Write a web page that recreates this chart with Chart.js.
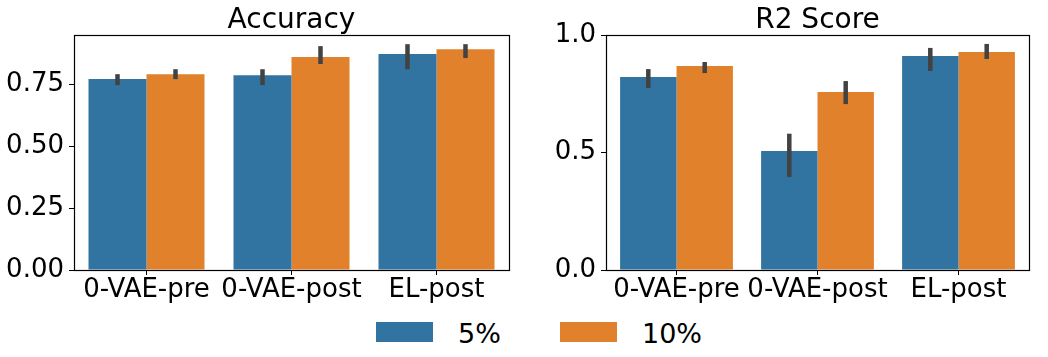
<!DOCTYPE html>
<html>
<head>
<meta charset="utf-8">
<script src="https://cdn.jsdelivr.net/npm/chart.js@4"></script>
<style>
  body { margin: 0; background: #fff; width: 1048px; height: 357px; overflow: hidden; position: relative; font-family: "DejaVu Sans", sans-serif; }
  .panel { position: absolute; top: 0; height: 310px; }
  #legend { position: absolute; top: 0; left: 0; }
  .sw { position: absolute; width: 57px; height: 20px; top: 322px; }
  .lbl { position: absolute; top: 320px; font-size: 27px; line-height: 27px; color: #000; }
</style>
</head>
<body>
<div class="panel" style="left:0;width:520px"><canvas id="acc"></canvas></div>
<div class="panel" style="left:520px;width:528px"><canvas id="r2"></canvas></div>
<div id="legend"></div>
<script>
const categories = ['0-VAE-pre', '0-VAE-post', 'EL-post'];
const seriesNames = ['5%', '10%'];
const seriesColors = ['#3274a1', '#e1812c'];

// Accuracy (bar height, CI low, CI high)
const acc5 = [0.770, 0.786, 0.871];
const acc5Lo = [0.746, 0.746, 0.810];
const acc5Hi = [0.790, 0.810, 0.911];
const acc10 = [0.790, 0.859, 0.891];
const acc10Lo = [0.770, 0.831, 0.855];
const acc10Hi = [0.810, 0.903, 0.911];

// R2 Score
const r2_5 = [0.821, 0.506, 0.911];
const r2_5Lo = [0.774, 0.396, 0.847];
const r2_5Hi = [0.855, 0.580, 0.945];
const r2_10 = [0.868, 0.757, 0.928];
const r2_10Lo = [0.838, 0.706, 0.898];
const r2_10Hi = [0.885, 0.804, 0.962];

const accTicks = [0, 0.25, 0.5, 0.75];
const r2Ticks = [0, 0.5, 1.0];

Chart.defaults.font.family = '"DejaVu Sans", sans-serif';
Chart.defaults.color = '#000';

// draw the CI lines on top of the bars
const errorBars = {
    id: 'errorBars',
    afterDatasetsDraw(chart) {
        const ctx = chart.ctx;
        const y = chart.scales.y;
        ctx.save();
        ctx.strokeStyle = '#424242';
        ctx.lineWidth = 4.5;
        ctx.lineCap = 'butt';
        chart.data.datasets.forEach((ds, i) => {
            const meta = chart.getDatasetMeta(i);
            meta.data.forEach((bar, j) => {
                ctx.beginPath();
                ctx.moveTo(bar.x, y.getPixelForValue(ds.errLo[j]));
                ctx.lineTo(bar.x, y.getPixelForValue(ds.errHi[j]));
                ctx.stroke();
            });
        });
        ctx.restore();
    }
};

// full box around the plot area + title centred over it
const frame = {
    id: 'frame',
    afterDraw(chart) {
        const a = chart.chartArea;
        const ctx = chart.ctx;
        ctx.save();
        ctx.strokeStyle = '#000';
        ctx.lineWidth = 1.2;
        ctx.strokeRect(Math.round(a.left) + 0.5, Math.round(a.top) + 0.5, Math.round(a.right - a.left), Math.round(a.bottom - a.top));
        ctx.fillStyle = '#000';
        ctx.font = '28px "DejaVu Sans", sans-serif';
        ctx.textAlign = 'center';
        ctx.textBaseline = 'alphabetic';
        ctx.fillText(chart.options.panelTitle, (a.left + a.right) / 2, 28);
        ctx.restore();
    }
};

function makeChart(id, title, s5, s10, lo5, hi5, lo10, hi10, yMax, ticks, decimals, yWidth, rightPad) {
    return new Chart(document.getElementById(id), {
        type: 'bar',
        data: {
            labels: categories,
            datasets: [
                { label: seriesNames[0], data: s5, errLo: lo5, errHi: hi5, backgroundColor: seriesColors[0] },
                { label: seriesNames[1], data: s10, errLo: lo10, errHi: hi10, backgroundColor: seriesColors[1] }
            ]
        },
        options: {
            panelTitle: title,
            responsive: true,
            maintainAspectRatio: false,
            animation: false,
            devicePixelRatio: 1,
            categoryPercentage: 0.8,
            barPercentage: 1.0,
            layout: { padding: { left: 0, right: rightPad, top: 35, bottom: 0 } },
            plugins: {
                legend: { display: false },
                tooltip: { enabled: false },
                title: { display: false }
            },
            scales: {
                x: {
                    grid: { display: true, offset: false, drawOnChartArea: false, tickLength: 5, color: '#000' },
                    border: { color: '#000' },
                    ticks: { font: { size: 26 }, autoSkip: false, maxRotation: 0, minRotation: 0, padding: 0 },
                    afterFit(scale) { scale.height = 40; }
                },
                y: {
                    min: 0,
                    max: yMax,
                    afterBuildTicks(scale) { scale.ticks = ticks.map(v => ({ value: v })); },
                    grid: { display: true, drawOnChartArea: false, tickLength: 5, color: '#000' },
                    border: { color: '#000' },
                    ticks: { font: { size: 26 }, padding: 5, callback: v => Number(v).toFixed(decimals) },
                    afterFit(scale) { scale.width = yWidth; }
                }
            }
        },
        plugins: [errorBars, frame]
    });
}

makeChart('acc', 'Accuracy', acc5, acc10, acc5Lo, acc5Hi, acc10Lo, acc10Hi, 0.948, accTicks, 2, 74, 11);
makeChart('r2', 'R2 Score', r2_5, r2_10, r2_5Lo, r2_5Hi, r2_10Lo, r2_10Hi, 1.0, r2Ticks, 1, 86, 19);

// legend below both panels
const legend = document.getElementById('legend');
const swatchX = [376, 560];
const textX = [458, 642];
seriesNames.forEach((name, i) => {
    const sw = document.createElement('div');
    sw.className = 'sw';
    sw.style.left = swatchX[i] + 'px';
    sw.style.background = seriesColors[i];
    legend.appendChild(sw);
    const t = document.createElement('div');
    t.className = 'lbl';
    t.style.left = textX[i] + 'px';
    t.textContent = name;
    legend.appendChild(t);
});
</script>
</body>
</html>
